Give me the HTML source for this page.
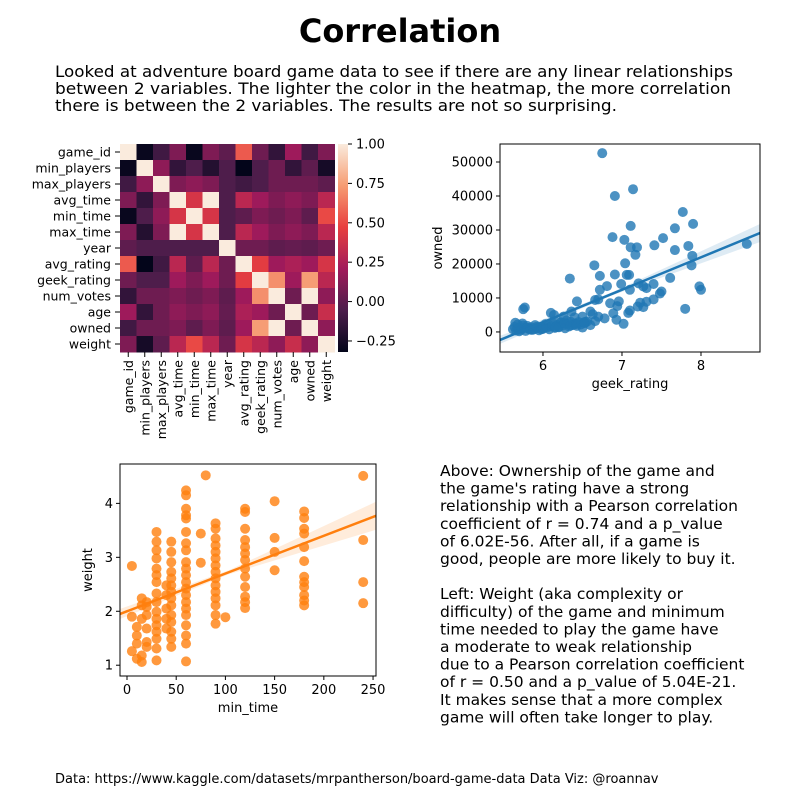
<!DOCTYPE html>
<html><head><meta charset="utf-8"><style>
html,body{margin:0;padding:0;background:#fff;}
svg{display:block;font-family:"DejaVu Sans","Liberation Sans",sans-serif;}
</style></head><body>
<svg id="fig" width="800" height="800" viewBox="0 0 800 800" xmlns="http://www.w3.org/2000/svg" xml:space="preserve">
<rect width="800" height="800" fill="#fff"/>
<text x="400" y="42" text-anchor="middle" font-size="32" font-weight="bold">Correlation</text>
<g font-size="16">
<text x="55" y="77" textLength="678" lengthAdjust="spacingAndGlyphs">Looked at adventure board game data to see if there are any linear relationships</text>
<text x="55" y="94" textLength="676" lengthAdjust="spacingAndGlyphs">between 2 variables.   The lighter the color in the heatmap, the more correlation</text>
<text x="55" y="111" textLength="562" lengthAdjust="spacingAndGlyphs">there is between the 2 variables.  The results are not so surprising.</text>
</g>
<g id="heat"></g>
<g id="sc1"></g>
<g id="sc2"></g>
<g font-size="15.5">
<text x="440" y="476">Above: Ownership of the game and</text>
<text x="440" y="493.6">the game's rating have a strong</text>
<text x="440" y="511.2">relationship with a Pearson correlation</text>
<text x="440" y="528.8">coefficient of r = 0.74 and a p_value</text>
<text x="440" y="546.4">of 6.02E-56.  After all, if a game is</text>
<text x="440" y="564">good, people are more likely to buy it.</text>
<text x="440" y="599.2">Left: Weight (aka complexity or</text>
<text x="440" y="616.8">difficulty) of the game and minimum</text>
<text x="440" y="634.4">time needed to play the game have</text>
<text x="440" y="652">a moderate to weak relationship</text>
<text x="440" y="669.6">due to a Pearson correlation coefficient</text>
<text x="440" y="687.2">of r = 0.50 and a p_value of 5.04E-21.</text>
<text x="440" y="704.8">It makes sense that a more complex</text>
<text x="440" y="722.4">game will often take longer to play.</text>
</g>
<text x="55" y="783" font-size="13">Data: https://www.kaggle.com/datasets/mrpantherson/board-game-data   Data Viz: @roannav</text>
</svg>
<script>
const NS="http://www.w3.org/2000/svg";
function mk(tag,attrs,parent){const e=document.createElementNS(NS,tag);for(const k in attrs)e.setAttribute(k,attrs[k]);parent.appendChild(e);return e;}

// ---------- Heatmap data ----------
const heatVars=["game_id","min_players","max_players","avg_time","min_time","max_time","year","avg_rating","geek_rating","num_votes","age","owned","weight"];
const corrRows=[
[1,-0.3,-0.1,0.1,-0.3,0.1,0.0,0.55,0.05,-0.15,0.2,-0.1,0.1],
[-0.3,1,0.15,-0.15,-0.05,-0.2,-0.05,-0.32,-0.05,0.05,-0.15,0.0,-0.25],
[-0.1,0.15,1,0.1,0.15,0.1,-0.05,-0.1,-0.05,0.05,0.05,0.05,0.0],
[0.1,-0.15,0.1,1,0.4,1,-0.05,0.3,0.2,0.1,0.15,0.1,0.3],
[-0.3,-0.05,0.15,0.4,1,0.4,-0.05,0.0,0.1,0.05,0.1,0.0,0.5],
[0.1,-0.2,0.1,1,0.4,1,-0.05,0.3,0.2,0.1,0.15,0.1,0.3],
[0,-0.05,-0.05,-0.05,-0.05,-0.05,1,0.05,0.05,0.0,0.02,0.0,0.05],
[0.55,-0.32,-0.1,0.3,0.0,0.3,0.05,1,0.45,0.2,0.25,0.2,0.4],
[0.05,-0.05,-0.05,0.2,0.1,0.2,0.05,0.45,1,0.7,0.2,0.74,0.3],
[-0.15,0.05,0.05,0.1,0.05,0.1,0.0,0.2,0.7,1,0.05,1,0.15],
[0.2,-0.15,0.05,0.15,0.1,0.15,0.02,0.25,0.2,0.05,1,0.05,0.35],
[-0.1,0.05,0.05,0.1,0.0,0.1,0.0,0.2,0.74,1,0.05,1,0.15],
[0.1,-0.25,0.0,0.3,0.5,0.3,0.05,0.4,0.3,0.15,0.35,0.15,1]];
const cbarTicks=[1.0,0.75,0.5,0.25,0.0,-0.25];
const cbarLabels=["1.00","0.75","0.50","0.25","0.00","\u22120.25"];

// ---------- Scatter 1 data ----------
const geekRating=[6.75,7.14,6.91,7.77,7.90,7.11,7.67,6.88,7.52,7.03,7.41,7.11,7.19,7.67,7.84,7.17,7.89,8.58,6.65,7.04,7.88,6.72,6.91,7.06,7.09,6.34,6.81,6.99,7.21,7.27,7.40,7.61,7.98,8.0,7.10,7.31,7.50,7.48,6.72,6.43,6.66,6.70,6.85,6.96,6.94,7.23,7.31,7.40,7.20,7.27,7.80,7.10,7.08,7.02,6.89,6.93,6.70,6.66,6.78,6.60,6.63,6.50,6.54,6.36,6.40,6.10,6.14,6.26,6.30,6.22,5.75,5.77,
5.62,5.64,5.66,5.68,5.70,5.72,5.74,5.76,5.78,5.80,5.82,5.85,5.88,5.90,5.92,5.95,5.98,6.00,6.03,6.05,6.08,6.10,6.13,6.15,6.18,6.20,6.23,6.25,6.28,6.30,6.33,6.35,6.38,6.40,6.43,6.45,6.48,6.50,6.53,6.56,6.60,5.65,5.70,5.75,5.80,5.86,5.92,5.98,6.04,6.12,6.20,6.27,6.35,6.42,6.52,5.68,5.84,6.00,6.16];
const ownedCount=[52600,42000,40000,35300,31800,31200,30500,27900,27600,27100,25500,24900,24900,24100,25300,22700,22400,25900,19600,20200,19600,16500,16900,16800,16800,15700,13500,14100,14300,13400,14100,15900,13400,12400,12400,12900,11900,11300,12400,9000,9400,9600,8450,9000,7600,8600,8900,9600,7500,7300,6800,6300,5600,2400,5500,3600,4500,3200,4000,6000,5200,4500,3000,6000,4300,5600,5000,4500,3400,2800,6700,7200,
800,1500,400,2200,1000,600,2500,1200,300,1800,900,1400,700,2000,1100,500,1600,900,2300,1300,800,1700,2600,1200,2100,1500,2800,1900,1100,2400,1600,3000,2000,2500,1800,2900,2200,1300,2600,3100,2000,2700,200,1900,1200,600,1500,800,1700,2200,1400,2600,1900,2300,2800,1000,700,1100,1400];
const sc1XTicks=[6,7,8];
const sc1YTicks=[0,10000,20000,30000,40000,50000];
const sc1Fit=[-2350,29100];

// ---------- Scatter 2 data ----------
const minTime=[5,5,5,10,10,10,10,15,15,15,15,15,20,20,20,20,20,20,
30,30,30,30,30,30,30,30,30,30,30,30,30,30,30,30,
40,40,40,40,40,
45,45,45,45,45,45,45,45,45,45,45,45,45,45,
60,60,60,60,60,60,60,60,60,60,60,60,60,60,60,60,60,60,60,60,60,
75,75,80,
90,90,90,90,90,90,90,90,90,90,90,90,90,90,90,100,
120,120,120,120,120,120,120,120,120,120,120,120,120,
150,150,150,150,
180,180,180,180,180,180,180,180,180,180,180,180,
240,240,240,240];
const weightVal=[2.84,1.90,1.26,1.71,1.55,1.40,1.12,2.24,2.11,1.86,1.18,1.06,2.17,2.08,1.93,1.43,1.34,1.68,
3.47,3.29,3.13,2.98,2.79,2.67,2.54,2.33,2.17,1.99,1.86,1.74,1.62,1.49,1.31,1.09,
2.48,2.30,2.05,1.86,1.68,
3.29,3.10,2.91,2.73,2.61,2.48,2.36,2.24,2.11,1.93,1.80,1.62,1.49,1.34,
4.24,4.15,3.90,3.78,3.72,3.47,3.26,3.13,2.91,2.79,2.67,2.54,2.42,2.30,2.17,2.05,1.93,1.74,1.55,1.40,1.07,
3.44,2.90,4.52,
3.63,3.53,3.35,3.22,3.10,2.98,2.85,2.73,2.61,2.48,2.36,2.24,2.11,1.93,1.77,1.89,
3.90,3.84,3.53,3.32,3.19,3.07,2.95,2.79,2.64,2.45,2.27,2.17,2.06,
4.04,3.36,3.10,2.76,
3.85,3.73,3.53,3.44,3.19,2.93,2.64,2.54,2.45,2.30,2.20,2.11,
4.51,3.32,2.54,2.15];
const sc2XTicks=[0,50,100,150,200,250];
const sc2YTicks=[1,2,3,4];
const sc2Fit=[1.95,3.77];

// ---------- Heatmap ----------
const rocketStops=[[0,[3,5,26]],[0.2,[76,29,75]],[0.4,[161,26,91]],[0.6,[232,63,63]],[0.8,[246,156,115]],[1,[250,235,221]]];
function rocket(t){t=Math.max(0,Math.min(1,t));for(let i=1;i<rocketStops.length;i++){if(t<=rocketStops[i][0]){const a=rocketStops[i-1],b=rocketStops[i];const f=(t-a[0])/(b[0]-a[0]);const c=a[1].map((v,j)=>Math.round(v+(b[1][j]-v)*f));return `rgb(${c})`;}}return "rgb(250,235,221)";}
const vMin=-0.32,vMax=1.0;
const hX0=120,hY0=144,cw=16.5,ch=16;
const heat=document.getElementById('heat');
corrRows.forEach((row,i)=>{row.forEach((v,j)=>{
  const r=mk('rect',{x:hX0+j*cw,y:hY0+i*ch,width:cw+0.5,height:ch+0.5,fill:rocket((v-vMin)/(vMax-vMin))},heat);
  
  
});});
heatVars.forEach((n,i)=>{
  const t=mk('text',{x:111,y:hY0+i*ch+ch/2+4.5,'text-anchor':'end','font-size':12.5},heat);t.textContent=n;
  
  
  mk('line',{x1:115,x2:120,y1:hY0+i*ch+ch/2,y2:hY0+i*ch+ch/2,stroke:'#000'},heat);
  const cx=hX0+i*cw+cw/2;
  mk('line',{x1:cx,x2:cx,y1:352,y2:357,stroke:'#000'},heat);
  const tx=mk('text',{x:0,y:0,'text-anchor':'end','font-size':12.5,transform:`translate(${cx+4.5},360) rotate(-90)`},heat);tx.textContent=n;
  
  
});
// colorbar
const cbX=338,cbW=10,cbY0=144,cbY1=352;
const defs=mk('defs',{},heat);
const grad=mk('linearGradient',{id:'rk',x1:0,y1:1,x2:0,y2:0},defs);
for(let k=0;k<=20;k++){mk('stop',{offset:k/20,'stop-color':rocket(k/20)},grad);}
const cb=mk('rect',{x:cbX,y:cbY0,width:cbW,height:cbY1-cbY0,fill:'url(#rk)'},heat);


const cbScale=v=>cbY1-(v-vMin)/(vMax-vMin)*(cbY1-cbY0);
cbarTicks.forEach((v,i)=>{const y=cbScale(v);
  mk('line',{x1:cbX+cbW,x2:cbX+cbW+4,y1:y,y2:y,stroke:'#000'},heat);
  const t=mk('text',{x:356,y:y+4.5,'font-size':13},heat);t.textContent=cbarLabels[i];
  
  
});

// ---------- generic scatter ----------
function scatter(g,opt){
  const {x0,x1,y0,y1,xmin,xmax,ymin,ymax,xs,ys,color,band,xticks,yticks,xlab,ylab,fit,yfmt,mark}=opt;
  const sx=v=>x0+(v-xmin)/(xmax-xmin)*(x1-x0);
  const sy=v=>y1-(v-ymin)/(ymax-ymin)*(y1-y0);
  const clip=mk('clipPath',{id:g.id+'c'},mk('defs',{},g));mk('rect',{x:x0,y:y0,width:x1-x0,height:y1-y0},clip);
  const inner=mk('g',{'clip-path':`url(#${g.id}c)`},g);
  xs.forEach((v,i)=>{const c=mk('circle',{cx:sx(v),cy:sy(ys[i]),r:5,fill:color,'fill-opacity':0.8},inner);
    
    });
  const xa=sx(xmin),xb=sx(xmax),ya=sy(fit[0]),yb=sy(fit[1]),xm=(xa+xb)/2*0.85+xa*0.15,ym=ya+(yb-ya)*((xm-xa)/(xb-xa));
  const bp=mk('path',{d:`M${xa},${ya-band[0]} L${xm},${ym-band[1]} L${xb},${yb-band[2]} L${xb},${yb+band[2]} L${xm},${ym+band[1]} L${xa},${ya+band[0]}Z`,fill:color,'fill-opacity':0.15},inner);
  
  
  const ln=mk('line',{x1:xa,y1:ya,x2:xb,y2:yb,stroke:color,'stroke-width':2.5},inner);
  
  
  mk('rect',{x:x0,y:y0,width:x1-x0,height:y1-y0,fill:'none',stroke:'#000','stroke-width':1},g);
  xticks.forEach(v=>{const x=sx(v);mk('line',{x1:x,x2:x,y1:y1,y2:y1+4,stroke:'#000'},g);
    const t=mk('text',{x:x,y:y1+18,'text-anchor':'middle','font-size':13},g);t.textContent=v;
    
    });
  yticks.forEach(v=>{const y=sy(v);mk('line',{x1:x0-4,x2:x0,y1:y,y2:y,stroke:'#000'},g);
    const t=mk('text',{x:x0-7,y:y+4.5,'text-anchor':'end','font-size':13},g);t.textContent=yfmt(v);
    
    });
  const xl=mk('text',{x:(x0+x1)/2,y:y1+36,'text-anchor':'middle','font-size':13},g);xl.textContent=xlab;
  
  
  const yl=mk('text',{x:0,y:0,'text-anchor':'middle','font-size':13,transform:`translate(${opt.ylx},${(y0+y1)/2}) rotate(-90)`},g);yl.textContent=ylab;
  
  
}
scatter(document.getElementById('sc1'),{x0:500,x1:760,y0:144,y1:352,xmin:5.456,xmax:8.747,ymin:-5900,ymax:55300,
  xs:geekRating,ys:ownedCount,color:'#1f77b4',band:[4,1.5,9],xticks:sc1XTicks,yticks:sc1YTicks,xlab:'geek_rating',ylab:'owned',
  fit:sc1Fit,yfmt:v=>String(v),ylx:442,mark:'owned-point'});
scatter(document.getElementById('sc2'),{x0:120,x1:376,y0:464,y1:676,xmin:-7.1,xmax:253,ymin:0.8,ymax:4.73,
  xs:minTime,ys:weightVal,color:'#ff7f0e',band:[5,2,14],xticks:sc2XTicks,yticks:sc2YTicks,xlab:'min_time',ylab:'weight',
  fit:sc2Fit,yfmt:v=>String(v),ylx:92,mark:'weight-point'});
</script>
</body></html>
